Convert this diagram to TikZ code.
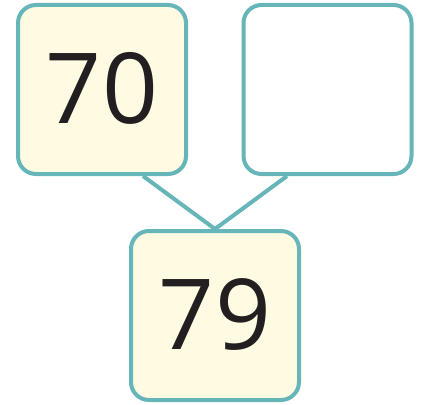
\documentclass[tikz,border=0pt]{standalone}
\usepackage{fontspec}
\setmainfont{Open Sans}
\usetikzlibrary{backgrounds}
\definecolor{bcol}{HTML}{66B5B9}
\definecolor{fcol}{HTML}{FEFBE2}
\definecolor{tcol}{HTML}{231F20}
\tikzstyle{numbox}=[rectangle, draw=bcol, line width=4pt, rounded corners=18pt, minimum width=168pt, minimum height=169pt, inner sep=0pt, text=tcol, font=\fontsize{98}{98}\selectfont]
\tikzstyle{edge}=[line width=4pt,bcol]

\begin{document}
\begin{tikzpicture}[x=1pt,y=-1pt]
	\useasboundingbox (0,0) rectangle (422,404);
	\node[numbox, fill=fcol] (11) at (102, 89.5) {\raisebox{4pt}{70}};
	\node[numbox, fill=white] (12) at (327.5, 89.5) {};
	\node[numbox, fill=fcol] (21) at (215, 315.5) {\raisebox{2pt}{79}};

	% Branches
	\begin{scope}[on background layer]
		\draw[edge] ([xshift=41pt]11.south)edge(21.north) ([xshift=-40.5pt]12.south)edge(21.north);
	\end{scope}
\end{tikzpicture}
\end{document}
